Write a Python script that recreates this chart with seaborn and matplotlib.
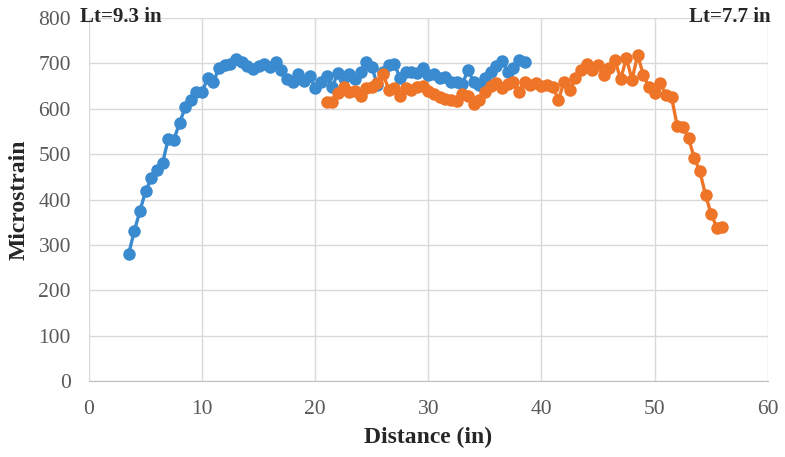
import matplotlib
matplotlib.use("Agg")
import matplotlib.pyplot as plt
import numpy as np
import seaborn as sb
import pandas as pd

# data (distance in inches, microstrain)
dist_left = [3.5, 4.0, 4.5, 5.0, 5.5, 6.0, 6.5, 7.0, 7.5, 8.0, 8.5, 9.0, 9.5, 10.0,
             10.5, 11.0, 11.5, 12.0, 12.5, 13.0, 13.5, 14.0, 14.5, 15.0, 15.5, 16.0,
             16.5, 17.0, 17.5, 18.0, 18.5, 19.0, 19.5, 20.0, 20.5, 21.0, 21.5, 22.0,
             22.5, 23.0, 23.5, 24.0, 24.5, 25.0, 25.5, 26.0, 26.5, 27.0, 27.5, 28.0,
             28.5, 29.0, 29.5, 30.0, 30.5, 31.0, 31.5, 32.0, 32.5, 33.0, 33.5, 34.0,
             34.5, 35.0, 35.5, 36.0, 36.5, 37.0, 37.5, 38.0, 38.5]
strain_left = [280, 330, 375, 418, 447, 466, 480, 533, 532, 568, 603, 620, 637, 638,
               668, 660, 690, 697, 698, 710, 702, 695, 688, 694, 698, 692,
               702, 685, 665, 658, 676, 662, 672, 645, 660, 672, 648, 678,
               668, 676, 666, 680, 702, 692, 652, 682, 696, 698, 668, 682,
               680, 678, 690, 674, 676, 668, 670, 660, 660, 655, 685, 660,
               652, 668, 680, 695, 706, 682, 690, 707, 702]

dist_right = [21.0, 21.5, 22.0, 22.5, 23.0, 23.5, 24.0, 24.5, 25.0, 25.5, 26.0, 26.5,
              27.0, 27.5, 28.0, 28.5, 29.0, 29.5, 30.0, 30.5, 31.0, 31.5, 32.0, 32.5,
              33.0, 33.5, 34.0, 34.5, 35.0, 35.5, 36.0, 36.5, 37.0, 37.5, 38.0, 38.5,
              39.0, 39.5, 40.0, 40.5, 41.0, 41.5, 42.0, 42.5, 43.0, 43.5, 44.0, 44.5,
              45.0, 45.5, 46.0, 46.5, 47.0, 47.5, 48.0, 48.5, 49.0, 49.5, 50.0, 50.5,
              51.0, 51.5, 52.0, 52.5, 53.0, 53.5, 54.0, 54.5, 55.0, 55.5, 56.0]
strain_right = [615, 615, 635, 648, 638, 640, 628, 646, 648, 656, 676, 642,
                645, 628, 646, 642, 648, 650, 640, 632, 626, 622, 620, 618,
                632, 628, 610, 620, 638, 650, 657, 645, 655, 660, 638, 660,
                652, 656, 650, 652, 648, 620, 660, 642, 668, 685, 698, 685,
                696, 675, 690, 707, 665, 712, 664, 718, 675, 648, 635, 657,
                630, 625, 562, 560, 535, 492, 462, 410, 368, 338, 340]

label_left = "Lt=9.3 in"
label_right = "Lt=7.7 in"
x_ticks = [0, 10, 20, 30, 40, 50, 60]
y_ticks = [0, 100, 200, 300, 400, 500, 600, 700, 800]

sb.set_style("white")
plt.rcParams["font.family"] = ["Liberation Serif", "DejaVu Serif"]

fig = plt.figure(figsize=(7.85, 4.57), dpi=100)
ax = fig.add_axes([0.1134, 0.1663, 0.8646, 0.7943])

t1 = pd.DataFrame({"x": dist_left, "y": strain_left})
t2 = pd.DataFrame({"x": dist_right, "y": strain_right})
sb.lineplot(data=t1, x="x", y="y", ax=ax, color="#3A8AD0", linewidth=2.4,
            marker="o", markersize=9, markeredgewidth=0, zorder=3)
sb.lineplot(data=t2, x="x", y="y", ax=ax, color="#EE7428", linewidth=2.4,
            marker="o", markersize=9, markeredgewidth=0, zorder=4)

ax.set_xlim(0, 60)
ax.set_ylim(0, 800)
ax.set_xticks(x_ticks)
ax.set_yticks(y_ticks)
ax.grid(True, color="#d9d9d9", linewidth=1)
ax.set_axisbelow(True)
for s in ["top", "right", "left"]:
    ax.spines[s].set_visible(False)
ax.spines["bottom"].set_color("#bfbfbf")
ax.tick_params(axis="both", length=0, labelsize=15.5, labelcolor="#595959")
ax.tick_params(axis="y", pad=13)
ax.tick_params(axis="x", pad=14)

ax.set_xlabel("Distance (in)", fontsize=17, fontweight="bold", labelpad=5)
ax.set_ylabel("Microstrain", fontsize=17, fontweight="bold", labelpad=6)

fig.text(0.102, 0.962, label_left, fontsize=15, fontweight="bold", va="center", ha="left")
fig.text(0.982, 0.962, label_right, fontsize=15, fontweight="bold", va="center", ha="right")

fig.savefig("out.png", dpi=100)
